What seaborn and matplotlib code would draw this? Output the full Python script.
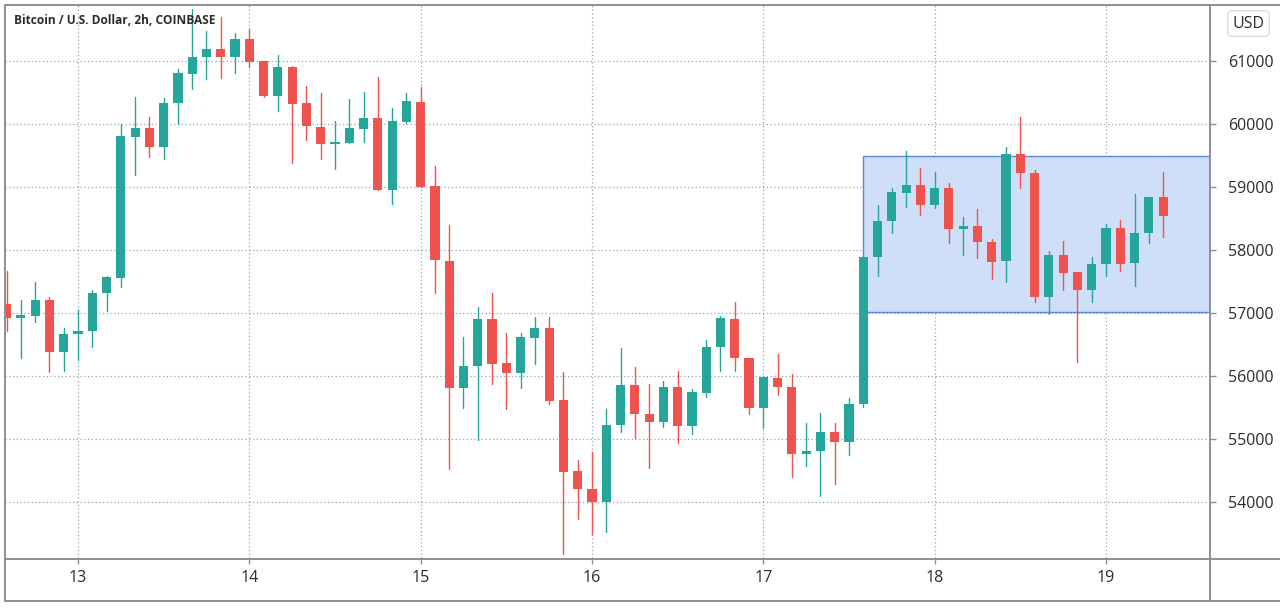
import numpy as np
import pandas as pd
import matplotlib
matplotlib.use("Agg")
import matplotlib.pyplot as plt
import matplotlib.dates as mdates
from matplotlib.patches import Rectangle
from matplotlib.lines import Line2D
import seaborn as sns

sns.set_theme(style="white")
plt.rcParams["font.family"] = ["Open Sans", "DejaVu Sans"]

# ---------------- data ----------------
title = "Bitcoin / U.S. Dollar, 2h, COINBASE"
currency = "USD"
start_time = "2021-03-12 14:00"
opens = [57139, 56926, 56958, 57207, 56377, 56667, 56715, 57323, 57560, 59800,
         59932, 59640, 60328, 60794, 61058, 61185, 61068, 61349, 61000, 60449,
         60909, 60338, 59957, 59678, 59703, 59920, 60090, 58952, 60027, 60354,
         59021, 57830, 55806, 56159, 56900, 56202, 56043, 56609, 56757, 55620,
         54493, 54203, 53996, 55223, 55858, 55398, 55266, 55831, 55212, 55736,
         56466, 56905, 56291, 55498, 55974, 55831, 54762, 54804, 55107, 54949,
         55552, 57884, 58465, 58910, 59032, 58710, 58980, 58329, 58386, 58132,
         57831, 59524, 59228, 57259, 57921, 57646, 57366, 57773, 58345, 57789,
         58265, 58846]
highs = [57672, 57207, 57497, 57260, 56757, 57048, 57366, 57588, 60000, 60424,
         60106, 60408, 60873, 61830, 61481, 61700, 61449, 61503, 61000, 61095,
         60925, 60603, 60497, 60053, 60402, 60503, 60741, 60249, 60487, 60592,
         59338, 58397, 56615, 57100, 57323, 56688, 56688, 56932, 56932, 56069,
         54668, 54800, 55472, 56440, 56139, 55869, 55921, 56080, 55790, 56572,
         56953, 57170, 56291, 56000, 56345, 56032, 55260, 55418, 55260, 55647,
         57900, 58714, 58989, 59577, 59297, 59243, 59069, 58519, 58646, 58170,
         59630, 60106, 59270, 57989, 58148, 57646, 57894, 58413, 58476, 58884,
         58846, 59243]
lows = [56709, 56282, 56853, 56069, 56085, 56255, 56466, 57037, 57413, 59190,
        59481, 59440, 60000, 60551, 60714, 60725, 60814, 60909, 60424, 60206,
        59376, 59746, 59444, 59281, 59703, 59719, 58952, 58726, 60011, 58995,
        57313, 54531, 55488, 54985, 55869, 55472, 55806, 56191, 55556, 53180,
        53725, 53493, 53519, 55117, 55012, 54546, 55196, 54933, 55075, 55663,
        56085, 56085, 55393, 55181, 55699, 54403, 54572, 54096, 54286, 54747,
        55500, 57592, 58265, 58688, 58556, 58662, 58107, 57921, 57868, 57535,
        57497, 58980, 57170, 56980, 57366, 56228, 57180, 57592, 57672, 57429,
        58107, 58202]
closes = [56926, 56969, 57207, 56377, 56667, 56720, 57313, 57567, 59810, 59932,
          59640, 60338, 60804, 61058, 61185, 61068, 61349, 60989, 60449, 60909,
          60317, 59968, 59678, 59710, 59932, 60090, 58952, 60048, 60370, 58995,
          57841, 55806, 56159, 56900, 56191, 56043, 56615, 56757, 55609, 54482,
          54203, 53996, 55223, 55858, 55393, 55266, 55831, 55212, 55752, 56466,
          56916, 56281, 55498, 55980, 55821, 54762, 54815, 55107, 54949, 55552,
          57884, 58465, 58916, 59032, 58710, 58980, 58329, 58386, 58132, 57815,
          59524, 59218, 57259, 57921, 57640, 57366, 57778, 58345, 57778, 58265,
          58846, 58540]
range_start = "2021-03-17 14:00"
range_low, range_high = 57020, 59500
yticks = [54000, 55000, 56000, 57000, 58000, 59000, 60000, 61000]

# ---------------- styling ----------------
UP, DOWN = "#26a69a", "#ef5350"
FRAME = "#8f8f8f"
GRID = "#8fa3b0"
TEXT = "#2b2b2b"

df = pd.DataFrame({
    "time": pd.date_range(start_time, periods=len(opens), freq="2h"),
    "open": opens, "high": highs, "low": lows, "close": closes,
})
df["x"] = mdates.date2num(df["time"])
df["dir"] = np.where(df["close"] >= df["open"], "up", "down")
df["id"] = np.arange(len(df))

W, H = 1280, 608
fig = plt.figure(figsize=(W / 100, H / 100), dpi=100)
ax = fig.add_axes([5 / W, 1 - 558 / H, 1205 / W, 553 / H])

# wicks via seaborn (long format, one unit per candle)
wick = pd.concat([
    df[["x", "id", "dir"]].assign(price=df["high"]),
    df[["x", "id", "dir"]].assign(price=df["low"]),
])
sns.lineplot(data=wick, x="x", y="price", units="id", estimator=None,
             hue="dir", palette={"up": UP, "down": DOWN}, legend=False,
             linewidth=1.0, ax=ax, zorder=3, sort=False)

# bodies
step = 2 / 24
body_bottom = np.minimum(df["open"], df["close"])
body_h = np.maximum(np.abs(df["close"] - df["open"]), 35)
colors = df["dir"].map({"up": UP, "down": DOWN})
ax.bar(df["x"], body_h, bottom=body_bottom, width=step * 0.64,
       color=colors, linewidth=0, zorder=4)

# axes range
day_px = 171.33
x13 = mdates.date2num(pd.Timestamp("2021-03-13"))
x_left = x13 + (5 - 78) / day_px
x_right = x13 + (1210 - 78) / day_px
ax.set_xlim(x_left, x_right)
ax.set_ylim(53111, 61889)

# highlighted range
xs = mdates.date2num(pd.Timestamp(range_start))
ax.add_patch(Rectangle((xs, range_low), x_right - xs, range_high - range_low,
                       facecolor="#cfdff7", edgecolor="#5f86d4", linewidth=1.0,
                       zorder=2))

# grid & ticks
ax.xaxis.set_major_locator(mdates.DayLocator())
ax.xaxis.set_major_formatter(mdates.DateFormatter("%d"))
ax.set_yticks(yticks)
ax.set_yticklabels([str(v) for v in yticks])
ax.yaxis.tick_right()
ax.grid(True, color=GRID, linestyle=(0, (1, 2)), linewidth=0.9, zorder=1)
ax.set_axisbelow(True)
ax.tick_params(axis="x", length=4, width=1, color=FRAME, pad=5,
               labelsize=11.5, labelcolor=TEXT, bottom=True)
ax.tick_params(axis="y", length=4, width=1, color=FRAME, pad=9,
               labelsize=11.5, labelcolor=TEXT, right=True, left=False)
ax.set_xlabel("")
ax.set_ylabel("")
for s in ax.spines.values():
    s.set_visible(False)

# frame lines (figure pixels)
def hline(y, x0, x1):
    fig.add_artist(Line2D([x0 / W, x1 / W], [1 - y / H, 1 - y / H],
                          color=FRAME, linewidth=1.4, transform=fig.transFigure))

def vline(x, y0, y1):
    fig.add_artist(Line2D([x / W, x / W], [1 - y0 / H, 1 - y1 / H],
                          color=FRAME, linewidth=1.4, transform=fig.transFigure))

hline(4.5, 5, 1280)
hline(558.5, 5, 1280)
hline(601, 5, 1280)
vline(5, 4.5, 601)
vline(1210, 4.5, 601)

fig.text(14 / W, 1 - 20 / H, title, ha="left", va="center", fontsize=8.6,
         fontweight="bold", color=TEXT)
fig.text(1248.5 / W, 1 - 23.5 / H, currency, ha="center", va="center",
         fontsize=11.5, color=TEXT,
         bbox=dict(boxstyle="round,pad=0.3", facecolor="white",
                   edgecolor="#dcdcdc", linewidth=1))

fig.savefig("out.png", dpi=100)
